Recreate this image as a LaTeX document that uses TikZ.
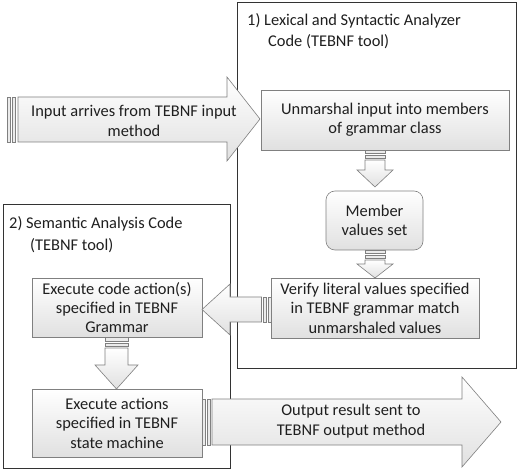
\documentclass[tikz,border=0pt]{standalone}
\usepackage{fontspec}
\setmainfont{Carlito}
\begin{document}
\begin{tikzpicture}[x=1pt,y=-1pt,
  txt/.style={font=\fontsize{16.4}{19.4}\selectfont, text=black!88, align=center, inner sep=0pt},
  procbox/.style={txt, draw=black!50, top color=white, bottom color=black!12, line width=0.6pt},
  container/.style={draw=black!80, line width=0.8pt, fill=white},
  blockarrow/.style={draw=black!50, top color=white, bottom color=black!12, line width=0.6pt, line join=miter},
  stripe/.style={draw=black!50, fill=black!8, line width=0.5pt}]
\useasboundingbox (0,0) rectangle (520,473);

% containers
\draw[container] (237,2) rectangle (516,368);
\draw[container] (3,204) rectangle (230,468);

% container titles
\node[txt, anchor=base west] (t1a) at (247,26) {1) Lexical and Syntactic Analyzer};
\node[txt, anchor=base west] (t1b) at (268,47) {Code (TEBNF tool)};
\node[txt, anchor=base west] (t2a) at (9,229) {2) Semantic Analysis Code};
\node[txt, anchor=base west] (t2b) at (30,251) {(TEBNF tool)};

% process boxes
\node[procbox, minimum width=248pt, minimum height=60pt] (unm) at (385,120) {Unmarshal input into members\\of grammar class};
\node[procbox, rounded corners=9pt, minimum width=97pt, minimum height=59pt] (mem) at (374.5,220.5) {Member\\values set};
\node[procbox, minimum width=208pt, minimum height=60pt] (ver) at (375,308) {Verify literal values specified\\in TEBNF grammar match\\unmarshaled values};
\node[procbox, minimum width=170pt, minimum height=59pt] (exc) at (117,307.5) {Execute code action(s)\\specified in TEBNF\\Grammar};
\node[procbox, minimum width=170pt, minimum height=68pt] (exa) at (117,423) {Execute actions\\specified in TEBNF\\state machine};

% input arrow
\draw[stripe] (7,97) rectangle (10,142);
\draw[stripe] (12,97) rectangle (15,142);
\draw[blockarrow] (18,97) -- (227,97) -- (227,77) -- (260,119) -- (227,161) -- (227,142) -- (18,142) -- cycle;
\node[txt] (intext) at (134,121) {Input arrives from TEBNF input\\method};

% unm -> mem
\draw[stripe] (365,150) rectangle (385,153);
\draw[stripe] (365,155) rectangle (385,158);
\draw[blockarrow] (365,160) -- (385,160) -- (385,170) -- (393,170) -- (375,187) -- (357,170) -- (365,170) -- cycle;

% mem -> ver
\draw[stripe] (365,250.5) rectangle (385,253);
\draw[stripe] (365,255) rectangle (385,258);
\draw[blockarrow] (365,260) -- (385,260) -- (385,264) -- (393,264) -- (375,278) -- (357,264) -- (365,264) -- cycle;

% ver -> exc
\draw[stripe] (268.5,297) rectangle (271,322);
\draw[stripe] (263.5,297) rectangle (266.5,322);
\draw[blockarrow] (261.5,297) -- (230,297) -- (230,284) -- (202,309.5) -- (230,335) -- (230,322) -- (261.5,322) -- cycle;

% exc -> exa
\draw[stripe] (105,337.5) rectangle (128,341);
\draw[stripe] (105,343) rectangle (128,346);
\draw[blockarrow] (105,348) -- (128,348) -- (128,365) -- (138,365) -- (116.5,389) -- (95,365) -- (105,365) -- cycle;

% output arrow
\draw[stripe] (202,399) rectangle (205,445);
\draw[stripe] (207,399) rectangle (210,445);
\draw[blockarrow] (212,399) -- (462,399) -- (462,377) -- (501,422) -- (462,467) -- (462,445) -- (212,445) -- cycle;
\node[txt] (outtext) at (351,421) {Output result sent to\\TEBNF output method};
\end{tikzpicture}
\end{document}
